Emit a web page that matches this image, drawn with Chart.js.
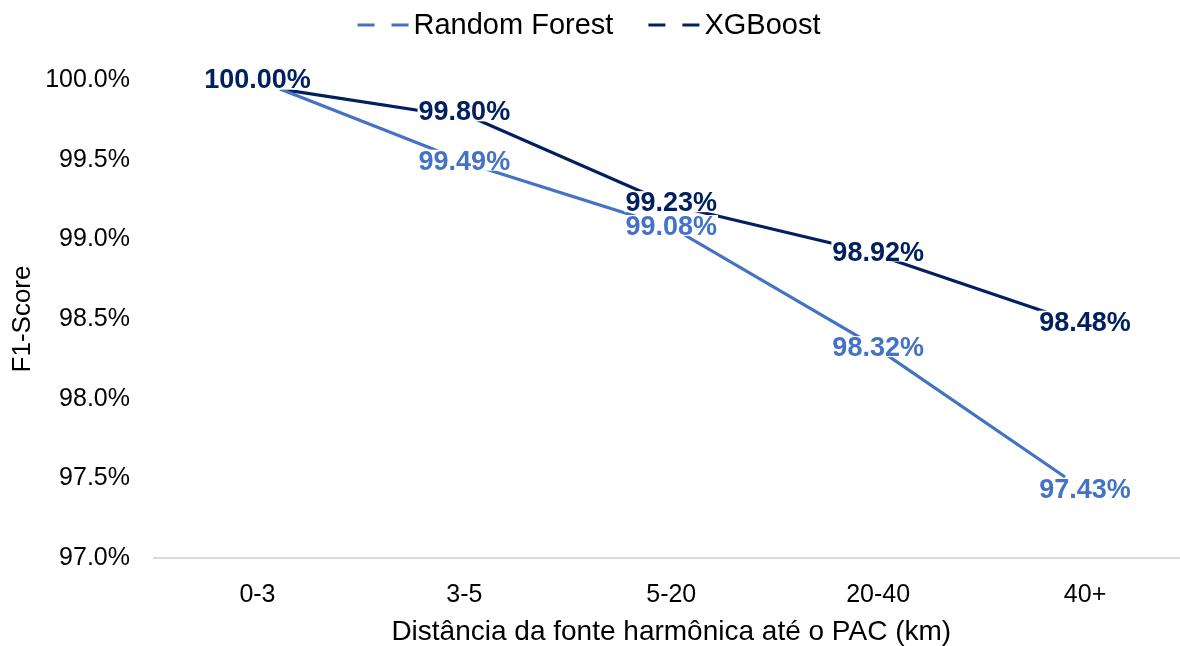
<!DOCTYPE html>
<html>
<head>
<meta charset="utf-8">
<script src="https://cdn.jsdelivr.net/npm/chart.js@4.4.1/dist/chart.umd.min.js"></script>
<style>
  html, body { margin: 0; padding: 0; background: #ffffff; overflow: hidden; }
  #wrap { width: 1190px; height: 646px; }
</style>
</head>
<body>
<div id="wrap"><canvas id="chart" width="1190" height="646"></canvas></div>
<script>
// Distance bands between harmonic source and PCC
const categories = ['0-3', '3-5', '5-20', '20-40', '40+'];
// F1-score (%) per model
const randomForest = [100.00, 99.49, 99.08, 98.32, 97.43];
const xgboost = [100.00, 99.80, 99.23, 98.92, 98.48];
const seriesNames = ['Random Forest', 'XGBoost'];
const seriesColors = ['#4472C4', '#002060'];
// Value axis range
const yMin = 97.0, yMax = 100.0, yStep = 0.5;

const FONT = "'Liberation Sans', Arial, sans-serif";

// Legend with dashed markers, centred above the plot
const dashedLegend = {
  id: 'dashedLegend',
  afterDraw(chart) {
    const ctx = chart.ctx;
    const markerW = 51, gapText = 5, gapItem = 35, cy = 25;
    ctx.save();
    ctx.font = '29px ' + FONT;
    const widths = chart.data.datasets.map(d => markerW + gapText + ctx.measureText(d.label).width);
    const total = widths.reduce((a, b) => a + b, 0) + gapItem * (widths.length - 1);
    let x = 589 - total / 2;
    chart.data.datasets.forEach((d, i) => {
      ctx.strokeStyle = d.borderColor;
      ctx.lineWidth = 3;
      ctx.setLineDash([17, 17]);
      ctx.beginPath();
      ctx.moveTo(x, cy);
      ctx.lineTo(x + markerW, cy);
      ctx.stroke();
      ctx.setLineDash([]);
      ctx.fillStyle = '#000000';
      ctx.textAlign = 'left';
      ctx.textBaseline = 'middle';
      ctx.fillText(d.label, x + markerW + gapText, cy + 1);
      x += widths[i] + gapItem;
    });
    ctx.restore();
  }
};

// Value labels on the visible category / value axes, each on a white backing
const valueLabels = {
  id: 'valueLabels',
  afterDatasetsDraw(chart) {
    const ctx = chart.ctx;
    const xs = chart.scales.x, ys = chart.scales.y;
    ctx.save();
    ctx.font = 'bold 27px ' + FONT;
    ctx.textAlign = 'center';
    ctx.textBaseline = 'middle';
    chart.data.datasets.forEach(d => {
      d.values.forEach((v, i) => {
        const px = xs.getPixelForValue(i);
        const py = ys.getPixelForValue(v) + 1;
        const txt = v.toFixed(2) + '%';
        const m = ctx.measureText(txt);
        ctx.fillStyle = '#ffffff';
        ctx.fillRect(px - m.actualBoundingBoxLeft - 1, py - m.actualBoundingBoxAscent - 1,
          m.actualBoundingBoxLeft + m.actualBoundingBoxRight + 2,
          m.actualBoundingBoxAscent + m.actualBoundingBoxDescent + 2);
        ctx.fillStyle = d.borderColor;
        ctx.fillText(txt, px, py);
      });
    });
    ctx.restore();
  }
};

const toPoints = arr => arr.map((v, i) => ({ x: i, y: v }));

new Chart(document.getElementById('chart'), {
  type: 'line',
  data: {
    labels: categories,
    datasets: [
      { label: seriesNames[0], values: randomForest, data: toPoints(randomForest),
        borderColor: seriesColors[0], backgroundColor: seriesColors[0],
        borderWidth: 3.2, pointRadius: 0, tension: 0, xAxisID: 'xl', yAxisID: 'yl' },
      { label: seriesNames[1], values: xgboost, data: toPoints(xgboost),
        borderColor: seriesColors[1], backgroundColor: seriesColors[1],
        borderWidth: 3.2, pointRadius: 0, tension: 0, xAxisID: 'xl', yAxisID: 'yl' }
    ]
  },
  options: {
    responsive: false,
    animation: false,
    devicePixelRatio: 1,
    layout: { padding: { top: 80, right: 1.5, bottom: 0, left: 0 } },
    plugins: { legend: { display: false }, tooltip: { enabled: false } },
    scales: {
      x: {
        type: 'category',
        offset: true,
        grid: { display: false },
        border: { display: true, color: '#D9D9D9', width: 2 },
        ticks: { color: '#000000', font: { family: FONT, size: 25 }, padding: 14, maxRotation: 0 },
        title: { display: true, text: 'Distância da fonte harmônica até o PAC (km)', color: '#000000',
          font: { family: FONT, size: 28, lineHeight: 1 }, padding: { top: 0, bottom: 0 } },
        afterFit(s) { s.height = 88; }
      },
      y: {
        type: 'linear',
        min: yMin, max: yMax,
        grid: { display: false, drawTicks: false },
        border: { display: false },
        ticks: { stepSize: yStep, color: '#000000', font: { family: FONT, size: 25 }, padding: 24,
          callback: v => v.toFixed(1) + '%' },
        title: { display: true, text: 'F1-Score', color: '#000000',
          font: { family: FONT, size: 26, lineHeight: 1 }, padding: { top: 10, bottom: 0 } },
        afterFit(s) { s.width = 154; }
      },
      xl: { type: 'linear', display: false, min: -0.642, max: 4.629 },
      yl: { type: 'linear', display: false, min: 96.893, max: 100.06 }
    }
  },
  plugins: [dashedLegend, valueLabels]
});
</script>
</body>
</html>
